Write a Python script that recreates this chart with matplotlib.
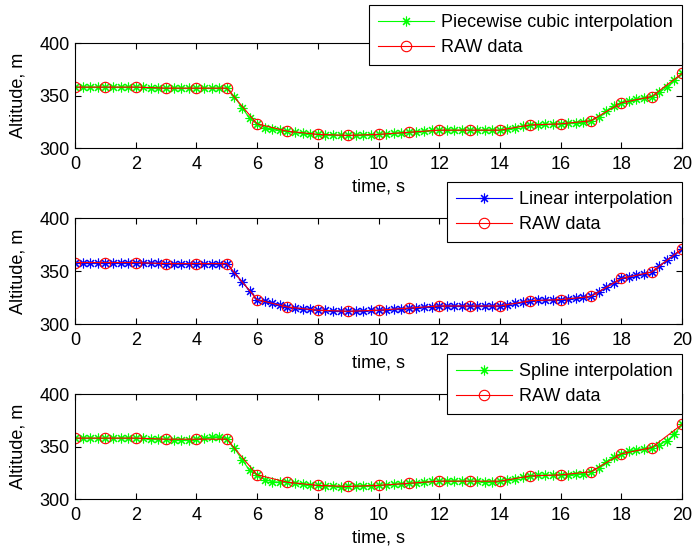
import matplotlib.pyplot as plt
import numpy as np

plt.rcParams['font.family'] = ['Liberation Sans', 'DejaVu Sans']
plt.rcParams['font.size'] = 13

# raw altitude samples, one per second
t_raw = list(range(0, 21))
alt_raw = [358, 358, 358, 357, 357, 357, 323, 316, 313, 312, 313,
           315, 317, 317, 317, 322, 323, 326, 343, 349, 371]

# fine time grid, 0.25 s
t_fine = [i * 0.25 for i in range(81)]

alt_pchip = [358, 358, 358, 358, 358, 358, 358, 358,
             358, 357.8, 357.5, 357.2, 357, 357, 357, 357,
             357, 357, 357, 357, 357, 349, 338.5, 328.5,
             323, 319.5, 318, 316.8, 316, 315, 314, 313.5,
             313, 312.6, 312.3, 312.1, 312, 312.1, 312.4, 312.7,
             313, 313.5, 314, 314.5, 315, 315.6, 316.2, 316.7,
             317, 317, 317, 317, 317, 317, 317, 317,
             317, 317.8, 319.5, 321.2, 322, 322.3, 322.5, 322.8,
             323, 323.5, 324.2, 325, 326, 329.5, 335, 340,
             343, 345, 346.5, 348, 349, 353, 358.5, 364.5,
             371]

alt_linear = [358, 358, 358, 358, 358, 358, 358, 358,
              358, 357.75, 357.5, 357.25, 357, 357, 357, 357,
              357, 357, 357, 357, 357, 348.5, 340, 331.5,
              323, 321.25, 319.5, 317.75, 316, 315.25, 314.5, 313.75,
              313, 312.75, 312.5, 312.25, 312, 312.25, 312.5, 312.75,
              313, 313.5, 314, 314.5, 315, 315.5, 316, 316.5,
              317, 317, 317, 317, 317, 317, 317, 317,
              317, 318.25, 319.5, 320.75, 322, 322.25, 322.5, 322.75,
              323, 323.75, 324.5, 325.25, 326, 330.25, 334.5, 338.75,
              343, 344.5, 346, 347.5, 349, 354.5, 360, 365.5,
              371]

alt_spline = [358, 358, 358, 358, 358, 358, 358, 358.1,
              358, 357.7, 357.3, 357, 357, 356.6, 356.3, 356.4,
              357, 358, 359, 359.3, 357, 348.5, 337.5, 327.5,
              323, 318.5, 316.5, 316, 316, 315.5, 314.5, 313.5,
              313, 312.4, 312, 311.9, 312, 312.2, 312.5, 312.8,
              313, 313.5, 314, 314.5, 315, 315.7, 316.4, 316.9,
              317, 317.2, 317.2, 317.1, 317, 316.8, 316.6, 316.6,
              317, 318, 319.5, 321, 322, 322.6, 322.8, 322.8,
              323, 323.1, 323.5, 324.3, 326, 330, 335.5, 340,
              343, 345.5, 347, 348, 349, 351.5, 355.5, 362,
              371]

panels = [
    (alt_pchip, '#00ff00', 'Piecewise cubic interpolation', [0.1081, 0.7309, 0.8746, 0.1909], 0.9909),
    (alt_linear, '#0000ff', 'Linear interpolation', [0.1081, 0.4109, 0.8746, 0.1927], 0.6690),
    (alt_spline, '#00ff00', 'Spline interpolation', [0.1081, 0.0927, 0.8746, 0.1909], 0.3564),
]

star = (8, 2, 0)

fig = plt.figure(figsize=(6.94, 5.5), dpi=100)
for y, col, name, rect, leg_top in panels:
    ax = fig.add_axes(rect)
    ax.plot(t_fine, y, color=col, marker=star, markersize=7, linewidth=0.8,
            markeredgewidth=0.8, label=name)
    ax.plot(t_raw, alt_raw, color='#ff0000', marker='o', markersize=7.5,
            markerfacecolor='none', markeredgewidth=0.8, linewidth=0.8,
            label='RAW data')
    ax.set_xlim(0, 20)
    ax.set_ylim(300, 400)
    ax.set_xticks(np.arange(0, 21, 2))
    ax.set_yticks([300, 350, 400])
    ax.tick_params(direction='in', top=True, right=True, length=4,
                   width=0.8, labelsize=13)
    ax.tick_params(axis='x', pad=6)
    ax.tick_params(axis='y', pad=4)
    for s in ax.spines.values():
        s.set_linewidth(0.8)
    ax.set_xlabel('time, s', labelpad=4)
    ax.set_ylabel('Altitude, m', labelpad=9)
    leg = ax.legend(loc='upper right', bbox_to_anchor=(0.9827, leg_top),
                    bbox_transform=fig.transFigure, fancybox=False,
                    framealpha=1, edgecolor='black', handlelength=3.1,
                    handletextpad=0.4, labelspacing=0.45, borderpad=0.5,
                    borderaxespad=0, fontsize=13)
    leg.get_frame().set_linewidth(0.8)

fig.savefig('out.png', dpi=100)
